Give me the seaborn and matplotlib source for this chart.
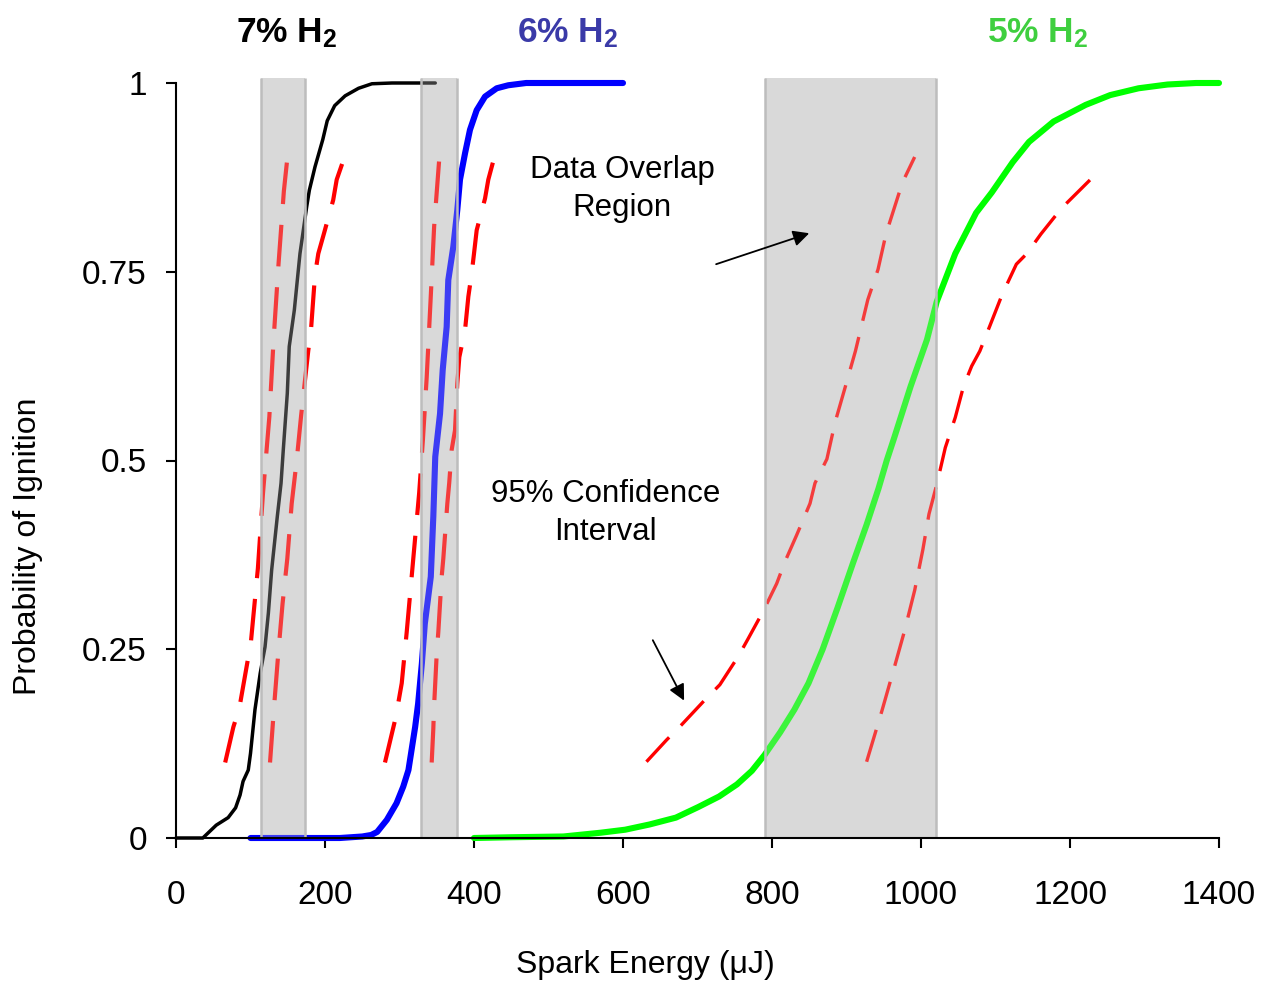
import matplotlib
matplotlib.use('Agg')
import matplotlib.pyplot as plt
import seaborn as sns

# ---------------- data ----------------
# 7% H2 cumulative probability of ignition
h7_x = [0, 36, 54, 70, 80, 86, 90, 97, 100, 106, 113, 119.5, 124, 128.4, 136, 141, 144,
        149.4, 152, 158.8, 166.4, 175.4, 179, 186.6, 197, 203, 213, 227, 245, 263, 290, 348]
h7_p = [0, 0, 0.017, 0.027, 0.04, 0.057, 0.075, 0.09, 0.112, 0.17, 0.218, 0.253, 0.298, 0.355,
        0.426, 0.47, 0.514, 0.589, 0.651, 0.699, 0.774, 0.836, 0.858, 0.889, 0.925, 0.95, 0.97,
        0.983, 0.993, 0.999, 1.0, 1.0]
h7_ci_lo_x = [66, 77, 85, 100.5, 109.9, 116.8, 125.3, 131, 137.6, 144.8, 149.4]
h7_ci_lo_p = [0.1, 0.147, 0.172, 0.259, 0.357, 0.457, 0.558, 0.66, 0.76, 0.857, 0.9]
h7_ci_hi_x = [126.2, 131.5, 137.3, 143, 149.4, 155.3, 162, 168, 177.6, 181.2, 186.6, 191,
              198.7, 211, 215.7, 225.5]
h7_ci_hi_p = [0.1, 0.172, 0.245, 0.31, 0.37, 0.443, 0.5, 0.56, 0.646, 0.673, 0.746, 0.774,
              0.801, 0.845, 0.872, 0.9]

# 6% H2
h6_x = [100, 220, 250, 262, 270, 283, 296, 305, 312, 321, 325, 330, 334, 342, 345.4, 348,
        354.4, 358, 363.3, 365.5, 372.2, 377.6, 381.2, 388, 394.6, 403.6, 414.8, 430.5, 446,
        470, 600]
h6_p = [0, 0, 0.002, 0.004, 0.008, 0.024, 0.046, 0.068, 0.09, 0.147, 0.178, 0.231, 0.284,
        0.346, 0.426, 0.505, 0.562, 0.62, 0.677, 0.739, 0.783, 0.832, 0.872, 0.907, 0.938,
        0.964, 0.982, 0.993, 0.997, 1.0, 1.0]
h6_ci_lo_x = [280.5, 295, 303, 309.7, 318.5, 326.4, 331.4, 336.5, 341.6, 346.5, 353.4]
h6_ci_lo_p = [0.1, 0.16, 0.205, 0.273, 0.37, 0.457, 0.527, 0.61, 0.71, 0.81, 0.9]
h6_ci_hi_x = [343.2, 345.4, 346.3, 350, 352.1, 356.6, 358.8, 364.2, 366.8, 370, 374.5,
              377.6, 380.3, 388, 392.4, 396.9, 400, 403.6, 414.8, 419.2, 426.8]
h6_ci_hi_p = [0.1, 0.145, 0.172, 0.245, 0.273, 0.346, 0.37, 0.443, 0.471, 0.514, 0.54,
              0.602, 0.637, 0.673, 0.717, 0.748, 0.774, 0.805, 0.847, 0.872, 0.9]

# 5% H2
h5_x = [400, 450, 520, 570, 603, 636, 671, 701, 729, 753, 773, 790, 811, 830, 849, 868, 888,
        909, 927, 943, 954, 964, 986, 1008, 1021, 1046, 1074, 1095, 1123, 1145, 1178, 1221,
        1254, 1292, 1331, 1369, 1400]
h5_p = [0, 0.001, 0.002, 0.007, 0.011, 0.018, 0.027, 0.041, 0.055, 0.071, 0.089, 0.11, 0.14,
        0.17, 0.205, 0.25, 0.305, 0.365, 0.415, 0.463, 0.5, 0.53, 0.598, 0.66, 0.71, 0.774,
        0.828, 0.855, 0.895, 0.922, 0.949, 0.971, 0.984, 0.993, 0.998, 1.0, 1.0]
h5_ci_lo_x = [631.5, 658.6, 678.7, 710, 730, 755, 768, 788.5, 806.3, 817.4, 833, 851, 857.7,
              873.7, 884.8, 898.5, 912, 928.6, 942.3, 953, 975, 991.5]
h5_ci_lo_p = [0.101, 0.13, 0.15, 0.183, 0.203, 0.241, 0.264, 0.301, 0.337, 0.366, 0.401,
              0.443, 0.47, 0.502, 0.551, 0.598, 0.645, 0.713, 0.753, 0.8, 0.868, 0.902]
h5_ci_hi_x = [927, 947.7, 964.2, 977.8, 991.5, 1002.5, 1010.7, 1021.6, 1032.6, 1046, 1057,
              1068, 1079, 1092.7, 1109, 1128, 1142, 1161, 1188.5, 1213, 1240.5]
h5_ci_hi_p = [0.101, 0.169, 0.226, 0.274, 0.328, 0.382, 0.429, 0.47, 0.517, 0.557, 0.598,
              0.625, 0.645, 0.679, 0.72, 0.76, 0.774, 0.8, 0.834, 0.858, 0.885]

# data overlap regions (spark energy, uJ)
overlap_lo = [114, 329, 791]
overlap_hi = [173, 377, 1020]

x_ticks = [0, 200, 400, 600, 800, 1000, 1200, 1400]
y_ticks = [0, 0.25, 0.5, 0.75, 1]
y_tick_labels = ['0', '0.25', '0.5', '0.75', '1']

series_labels = ['7% H$_\\mathbf{2}$', '6% H$_\\mathbf{2}$', '5% H$_\\mathbf{2}$']
series_label_x = [149, 526, 1157]

# ---------------- style ----------------
sns.set_style('ticks')
plt.rcParams['font.family'] = ['Liberation Sans', 'DejaVu Sans']
plt.rcParams['text.color'] = 'black'
plt.rcParams['axes.labelcolor'] = 'black'
plt.rcParams['xtick.color'] = 'black'
plt.rcParams['ytick.color'] = 'black'
plt.rcParams['mathtext.fontset'] = 'custom'
plt.rcParams['mathtext.rm'] = 'Liberation Sans'
plt.rcParams['mathtext.bf'] = 'Liberation Sans:bold'
plt.rcParams['mathtext.it'] = 'Liberation Sans:italic'

W, H = 1261, 982
fig = plt.figure(figsize=(W / 100, H / 100), dpi=100)
ax = fig.add_axes([176 / W, 1 - 838 / H, (1219 - 176) / W, (838 - 83) / H])
ax.set_facecolor('white')

SHADE = '#d9d9d9'
for a, b in zip(overlap_lo, overlap_hi):
    ax.axvspan(a, b, ymin=0, ymax=1.007, color=SHADE, lw=0, zorder=0.5, clip_on=False)

DASH = (0, (10, 5))


def curve(x, y, color, lw, dashed=False):
    sns.lineplot(x=x, y=y, ax=ax, color=color, lw=lw, sort=False, estimator=None,
                 linestyle=DASH if dashed else '-', zorder=2, clip_on=False, legend=False)


RED = '#ff0000'
curve(h7_x, h7_p, 'black', 2.5)
curve(h7_ci_lo_x, h7_ci_lo_p, RED, 3.0, dashed=True)
curve(h7_ci_hi_x, h7_ci_hi_p, RED, 3.0, dashed=True)
curve(h6_x, h6_p, '#0000ff', 4.4)
curve(h6_ci_lo_x, h6_ci_lo_p, RED, 3.0, dashed=True)
curve(h6_ci_hi_x, h6_ci_hi_p, RED, 3.0, dashed=True)
curve(h5_x, h5_p, '#00ff00', 4.4)
curve(h5_ci_lo_x, h5_ci_lo_p, RED, 2.4, dashed=True)
curve(h5_ci_hi_x, h5_ci_hi_p, RED, 2.4, dashed=True)

# translucent tint of the overlap regions over the curves, plus grey edges
for a, b in zip(overlap_lo, overlap_hi):
    ax.axvspan(a, b, ymin=0, ymax=1.007, color=SHADE, alpha=0.28, lw=0, zorder=3,
               clip_on=False)
    ax.vlines([a, b], 0, 1.007, color='#bdbdbd', lw=1.8, zorder=3.5, clip_on=False)

ax.set_xlim(0, 1400)
ax.set_ylim(0, 1)
ax.set_xticks(x_ticks)
ax.set_xticklabels([str(t) for t in x_ticks])
ax.set_yticks(y_ticks)
ax.set_yticklabels(y_tick_labels)
for s in ['top', 'right']:
    ax.spines[s].set_visible(False)
for s in ['left', 'bottom']:
    ax.spines[s].set_linewidth(1.5)
    ax.spines[s].set_color('black')
    ax.spines[s].set_zorder(5)
ax.tick_params(axis='both', direction='out', length=7, width=1.5, color='black',
               labelsize=24, labelcolor='black')
ax.tick_params(axis='x', pad=23)
ax.tick_params(axis='y', pad=14)

ax.set_xlabel('Spark Energy (\u03bcJ)', fontsize=23, va='center', ha='center', color='black')
ax.xaxis.set_label_coords((645 - 176) / 1043, (838 - 965) / 755)
ax.set_ylabel('Probability of Ignition', fontsize=23, va='center', ha='center', color='black')
ax.yaxis.set_label_coords((28 - 176) / 1043, (838 - 546) / 755)

label_colors = ['black', '#3a3aa8', '#3fcf3f']
for lbl, lx, lc in zip(series_labels, series_label_x, label_colors):
    ax.text(lx, 1.054, lbl, ha='center', va='baseline', fontsize=25.5, fontweight='bold',
            color=lc, clip_on=False)

ax.text(599, 0.8596, 'Data Overlap\nRegion', ha='center', va='center', fontsize=22.5,
        multialignment='center', linespacing=1.33, zorder=6, color='black')
ax.text(577, 0.4305, '95% Confidence\nInterval', ha='center', va='center', fontsize=22.5,
        multialignment='center', linespacing=1.33, zorder=6, color='black')

arrow = dict(arrowstyle='-|>', color='black', lw=1.3, mutation_scale=24, shrinkA=0,
             shrinkB=0)
ax.annotate('', xy=(850, 0.801), xytext=(725, 0.760), arrowprops=arrow, zorder=6)
ax.annotate('', xy=(682, 0.182), xytext=(640, 0.262), arrowprops=arrow, zorder=6)

fig.savefig('out.png', dpi=100, facecolor='white')
